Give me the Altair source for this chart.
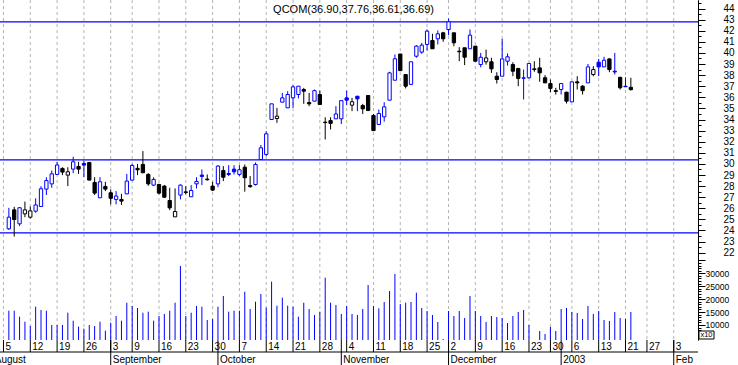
import altair as alt
import pandas as pd

# ---------------- data ----------------
SESSIONS = {
    "2002-08": [1, 2, 5, 6, 7, 8, 9, 12, 13, 14, 15, 16, 19, 20, 21, 22, 23, 26, 27, 28, 29, 30],
    "2002-09": [3, 4, 5, 6, 9, 10, 11, 12, 13, 16, 17, 18, 19, 20, 23, 24, 25, 26, 27, 30],
    "2002-10": [1, 2, 3, 4, 7, 8, 9, 10, 11, 14, 15, 16, 17, 18, 21, 22, 23, 24, 25, 28, 29, 30, 31],
    "2002-11": [1, 4, 5, 6, 7, 8, 11, 12, 13, 14, 15, 18, 19, 20, 21, 22, 25, 26, 27, 29],
    "2002-12": [2, 3, 4, 5, 6, 9, 10, 11, 12, 13, 16, 17, 18, 19, 20, 23, 24, 26, 27, 30, 31],
    "2003-01": [2, 3, 6, 7, 8, 9, 10, 13, 14, 15, 16, 17, 21, 22, 23, 24, 27, 28, 29, 30, 31],
    "2003-02": [3],
}
MONTH_LABELS = ["August", "September", "October", "November", "December", "2003", "Feb"]
FIRST_CANDLE = "2002-08-06"
SYMBOL = "QCOM"

OPEN = [
    24.15, 25.86, 24.60, 25.50, 25.20, 25.74, 26.16, 27.73, 28.20, 29.05,
    29.59, 28.99, 29.53, 29.77, 30.04, 30.13, 28.33, 26.95, 27.97, 27.40,
    26.80, 26.80, 27.30, 28.54, 29.60, 29.95, 29.05, 28.09, 28.15, 28.00,
    26.70, 25.23, 27.19, 27.48, 27.04, 28.20, 28.99, 28.63, 28.00, 28.20,
    29.40, 29.14, 29.53, 29.05, 29.70, 28.05, 28.14, 30.40, 30.85, 34.00,
    34.09, 35.56, 35.05, 35.95, 36.25, 36.70, 35.53, 35.65, 36.25, 33.76,
    33.90, 34.06, 34.06, 35.95, 35.29, 36.10, 35.26, 36.16, 34.36, 33.55,
    34.24, 35.74, 37.54, 39.90, 38.05, 37.16, 39.70, 40.07, 40.76, 41.12,
    41.27, 41.81, 42.10, 41.81, 40.15, 40.46, 40.37, 40.61, 38.95, 39.20,
    39.20, 37.90, 37.90, 39.25, 38.95, 38.60, 37.75, 37.76, 38.56, 38.65,
    37.76, 37.24, 36.60, 36.70, 36.46, 35.59, 37.39, 37.00, 37.30, 38.05,
    39.16, 38.74, 39.46, 38.35, 37.80, 37.00, 36.90,
]
HIGH = [
    26.04, 26.13, 26.10, 26.60, 26.16, 26.90, 28.00, 28.80, 29.40, 30.19,
    29.70, 29.70, 30.64, 30.19, 30.30, 30.13, 28.80, 28.80, 28.39, 27.70,
    27.55, 27.30, 29.10, 30.00, 30.00, 31.15, 29.17, 28.80, 28.20, 28.09,
    27.85, 27.79, 28.15, 28.00, 28.09, 28.80, 29.50, 29.05, 28.39, 29.89,
    29.80, 29.89, 29.89, 29.89, 29.95, 28.90, 30.13, 31.70, 32.95, 35.41,
    35.05, 36.40, 36.55, 37.09, 37.00, 36.85, 36.40, 36.70, 36.60, 34.20,
    34.20, 35.20, 35.70, 36.60, 35.95, 36.10, 35.41, 36.19, 34.50, 34.90,
    35.56, 38.30, 39.86, 39.90, 38.05, 39.20, 40.70, 40.91, 42.11, 41.72,
    42.02, 41.90, 43.10, 41.81, 40.52, 40.46, 42.11, 40.61, 40.00, 40.30,
    39.56, 38.26, 41.27, 39.95, 39.16, 38.60, 38.50, 39.05, 39.25, 39.56,
    38.00, 37.60, 36.85, 37.24, 36.50, 37.45, 37.90, 37.10, 39.00, 38.80,
    39.46, 39.65, 39.50, 40.00, 37.85, 37.80, 37.76,
]
LOW = [
    24.05, 23.45, 24.40, 25.20, 25.08, 25.60, 26.16, 27.20, 27.85, 29.05,
    28.99, 28.00, 29.17, 29.10, 28.80, 28.54, 27.20, 26.95, 27.55, 26.35,
    26.35, 26.30, 27.30, 28.50, 28.99, 29.20, 28.03, 28.00, 27.25, 26.95,
    25.83, 25.23, 26.80, 27.25, 27.04, 27.79, 28.09, 28.50, 27.55, 27.90,
    28.45, 28.90, 29.05, 28.90, 27.50, 27.85, 28.05, 30.40, 30.70, 34.00,
    33.70, 35.56, 35.05, 35.05, 35.90, 35.41, 35.20, 35.65, 35.35, 32.20,
    33.10, 34.06, 33.60, 35.30, 34.75, 34.75, 34.50, 34.75, 33.00, 33.50,
    33.80, 35.74, 37.54, 38.40, 36.80, 37.10, 39.56, 39.92, 40.22, 40.37,
    40.76, 41.00, 41.60, 40.60, 39.25, 38.90, 40.37, 39.25, 38.70, 38.95,
    38.20, 37.24, 37.90, 38.86, 37.90, 37.00, 35.80, 37.70, 38.30, 37.40,
    37.30, 36.46, 36.25, 36.25, 35.44, 35.59, 36.70, 36.25, 37.30, 37.90,
    37.90, 38.74, 38.26, 38.05, 36.70, 36.93, 36.61,
]
CLOSE = [
    25.20, 24.99, 26.05, 25.86, 25.77, 26.30, 27.76, 28.50, 29.10, 29.90,
    29.26, 29.29, 30.19, 29.53, 29.89, 28.54, 27.37, 28.39, 27.73, 26.90,
    27.10, 26.65, 28.45, 29.86, 29.47, 29.20, 28.20, 28.60, 27.37, 27.00,
    26.04, 25.71, 28.09, 27.43, 27.60, 28.42, 28.87, 28.57, 27.64, 29.80,
    28.80, 29.05, 29.29, 29.47, 28.75, 27.95, 29.95, 31.45, 32.71, 35.41,
    34.30, 35.95, 36.25, 36.94, 37.00, 36.55, 35.41, 36.60, 35.35, 33.72,
    33.65, 34.50, 35.70, 35.74, 35.60, 35.86, 34.96, 34.81, 33.00, 34.54,
    35.14, 38.20, 39.47, 38.40, 37.00, 39.20, 40.61, 40.70, 41.96, 40.37,
    41.72, 41.27, 42.80, 40.91, 40.10, 39.61, 41.60, 39.25, 39.61, 39.55,
    38.56, 37.60, 39.46, 39.65, 38.35, 37.70, 37.72, 39.05, 38.50, 38.20,
    37.30, 36.80, 36.53, 37.24, 35.65, 37.39, 37.30, 36.60, 38.74, 38.50,
    38.74, 39.34, 38.50, 38.28, 36.86, 36.95, 36.69,
]
# b = blue (up day), k = black (down day), as drawn in the reference
COLOR = list(
    "bkbkkbbbbb" "kkbkbkkbkk" "bkbbkkkbkk" "kkbkbbbkkb" "kbbbkkbbbb"
    "kbbbbkkbkk" "kbbbkbkkkb" "bbbkkbbbbk" "bkbkkkbkbk" "kkbbkkbbkk"
    "kkkbkbkkbk" "bbkbkbk"
)
VOLUME = [
    15530, 15530, 13210, 11280, 9610, 17080, 15800, 15530, 10000, 10000,
    10000, 14760, 11660, 9360, 8580, 10000, 9610, 11280, 7800, 10900,
    13480, 11660, 18630, 17350, 16580, 14760, 15160, 11660, 13480, 14250,
    15530, 18630, 32820, 13480, 14760, 17350, 17080, 11930, 12320, 17080,
    21220, 15160, 15530, 15530, 22880, 16190, 19010, 21990, 16700, 26750,
    17470, 20560, 17470, 17080, 13210, 18630, 16190, 13870, 15160, 28300,
    18630, 17740, 14250, 17350, 14250, 13870, 16190, 25470, 17350, 16450,
    18900, 23150, 29730, 18120, 18630, 18900, 22500, 16580, 15420, 13870,
    11160, 4600, 15420, 13480, 15420, 12710, 21220, 15420, 13480, 11160,
    13480, 13090, 12710, 10770, 13480, 15030, 15800, 10000, 4200, 7680,
    6520, 9230, 7680, 16190, 16580, 15030, 14640, 12320, 17350, 14250,
    15420, 11930, 11550, 15030, 12710, 12320, 15030,
]
LEVELS = [42.80, 30.37, 23.79]  # horizontal blue lines

# ---------------- layout ----------------
W, H = 698, 340
X_VIEW = [2.283, 130.59]          # visible session range
PRICE_VIEW = [14.135, 44.766]     # price at bottom / top of plot
VOL_VIEW = [4197, 135725]         # volume at bottom / top of plot
FONT = "Liberation Sans"
BLUE, BLACK, GRID = "#0000ff", "#000000", "#b4b4b4"
ROW_SPLIT = 352                   # line between day row and month row

dates = pd.to_datetime([f"{ym}-{d:02d}" for ym, ds in SESSIONS.items() for d in ds])
cal = pd.DataFrame({"date": dates})
cal["s"] = range(len(cal))
s0 = int(cal.index[cal["date"] == pd.Timestamp(FIRST_CANDLE)][0])
n = len(OPEN)

df = pd.DataFrame({
    "s": cal["s"].iloc[s0:s0 + n].values,
    "open": OPEN, "high": HIGH, "low": LOW, "close": CLOSE, "vol": VOLUME,
})
df["col"] = [BLUE if c == "b" else BLACK for c in COLOR]
df["fill"] = ["#ffffff" if c > o else col for o, c, col in zip(df["open"], df["close"], df["col"])]
df["vbase"] = VOL_VIEW[0]

cal["wk"] = cal["date"].dt.to_period("W-SUN").astype(str)
cal["mo"] = cal["date"].dt.to_period("M").astype(str)
wk_first = cal.groupby("wk", sort=False).first()
weeks = pd.DataFrame({"s": wk_first["s"].values,
                      "lab": [str(d.day) for d in wk_first["date"]]})
mo_first = cal.groupby("mo", sort=False).first()
months = pd.DataFrame({"s": mo_first["s"].values, "lab": MONTH_LABELS})

title_df = pd.DataFrame({"t": [f"{SYMBOL}({OPEN[-1]:.2f},{HIGH[-1]:.2f},{LOW[-1]:.2f},{CLOSE[-1]:.2f})"]})
lev_df = pd.DataFrame({"v": LEVELS})
one = pd.DataFrame({"t": ["x10"]})

xs = alt.Scale(domain=X_VIEW, nice=False, zero=False)
ps = alt.Scale(domain=PRICE_VIEW, nice=False, zero=False)
vs = alt.Scale(domain=VOL_VIEW, nice=False, zero=False)
X = alt.X("s:Q", scale=xs, axis=None)

x_axis = alt.Axis(domain=True, domainColor="black", ticks=False, labels=False,
                  grid=False, title=None)
price_major = alt.Axis(orient="right", values=list(range(22, 45)), format="d",
                       tickSize=7, tickColor="black", domainColor="black",
                       labelPadding=18, labelFontSize=10, labelFont=FONT,
                       labelColor="black", labelAlign="left", labelBaseline="middle",
                       labelFlush=False, labelOverlap=False, grid=False, title=None)
price_minor = alt.Axis(orient="right", values=[v + 0.5 for v in range(22, 45)],
                       tickSize=3, tickColor="black", labels=False, domain=False,
                       grid=False, title=None)
vol_major = alt.Axis(orient="right", values=list(range(10000, 35001, 5000)),
                     labelExpr="datum.value <= 30000 ? '' + datum.value : ''",
                     tickSize=7, tickColor="black", domainColor="black",
                     labelPadding=0, labelFontSize=8.5, labelFont=FONT,
                     labelColor="black", labelAlign="left", labelBaseline="middle",
                     labelFlush=False, labelOverlap=False, grid=False, title=None)
vol_minor = alt.Axis(orient="right",
                     values=[v for v in range(7000, 35001, 1000) if v % 5000],
                     tickSize=3, tickColor="black", labels=False, domain=False,
                     grid=False, title=None)

grid = alt.Chart(weeks).mark_rule(color=GRID, strokeDash=[3, 3], strokeWidth=1).encode(
    x=alt.X("s:Q", scale=xs, axis=x_axis))
levels = alt.Chart(lev_df).mark_rule(color=BLUE, strokeWidth=1.3).encode(
    y=alt.Y("v:Q", scale=ps, axis=None))
vol = alt.Chart(df).mark_rule(color=BLUE, strokeWidth=1).encode(
    x=X, y=alt.Y("vol:Q", scale=vs, axis=vol_major), y2="vbase:Q")
vol_ticks = alt.Chart(df).mark_rule(opacity=0).encode(
    x=X, y=alt.Y("vol:Q", scale=vs, axis=vol_minor))
wick = alt.Chart(df).mark_rule(strokeWidth=1).encode(
    x=X, y=alt.Y("low:Q", scale=ps, axis=price_major), y2="high:Q",
    color=alt.Color("col:N", scale=None))
body = alt.Chart(df).mark_bar(size=3.3, strokeWidth=1, orient="vertical").encode(
    x=X, y=alt.Y("open:Q", scale=ps, axis=price_minor), y2="close:Q",
    fill=alt.Fill("fill:N", scale=None), stroke=alt.Stroke("col:N", scale=None))

row_line = alt.Chart(one).mark_rule(color="black", strokeWidth=1).encode(
    x=alt.value(0), x2=alt.value(W), y=alt.value(ROW_SPLIT))
day_ticks = alt.Chart(weeks).mark_rule(color="black").encode(
    x=X, y=alt.value(H), y2=alt.value(ROW_SPLIT))
day_labels = alt.Chart(weeks).mark_text(align="left", dx=2, baseline="alphabetic",
                                        fontSize=10, font=FONT, color="black").encode(
    x=X, y=alt.value(350), text="lab:N")
mon_ticks = alt.Chart(months).mark_rule(color="black").encode(
    x=X, y=alt.value(H), y2=alt.value(365))
mon_labels = alt.Chart(months).mark_text(align="left", dx=2, baseline="alphabetic",
                                         fontSize=10, font=FONT, color="black").encode(
    x=X, y=alt.value(363), text="lab:N")

title = alt.Chart(title_df).mark_text(align="center", baseline="alphabetic", fontSize=11,
                                      font=FONT, color="black").encode(
    x=alt.value(353.5), y=alt.value(12.5), text="t:N")
x10_box = alt.Chart(one).mark_rect(
    fill="white", stroke="black", strokeWidth=1).encode(
    x=alt.value(699), x2=alt.value(714), y=alt.value(331), y2=alt.value(339))
x10_text = alt.Chart(one).mark_text(
    align="center", baseline="middle", fontSize=7.5, font=FONT, color="black").encode(
    x=alt.value(706.5), y=alt.value(335), text="t:N")

chart = alt.layer(
    grid, levels, vol, vol_ticks, wick, body,
    row_line, day_ticks, day_labels, mon_ticks, mon_labels, title, x10_box, x10_text,
).resolve_scale(y="independent").properties(
    width=W, height=H,
    autosize=alt.AutoSizeParams(type="none"),
    padding={"left": 0, "top": 0, "right": 40, "bottom": 25},
    background="white",
).configure_view(stroke=None)

chart.save("out.html", embed_options={"renderer": "svg", "actions": False})
